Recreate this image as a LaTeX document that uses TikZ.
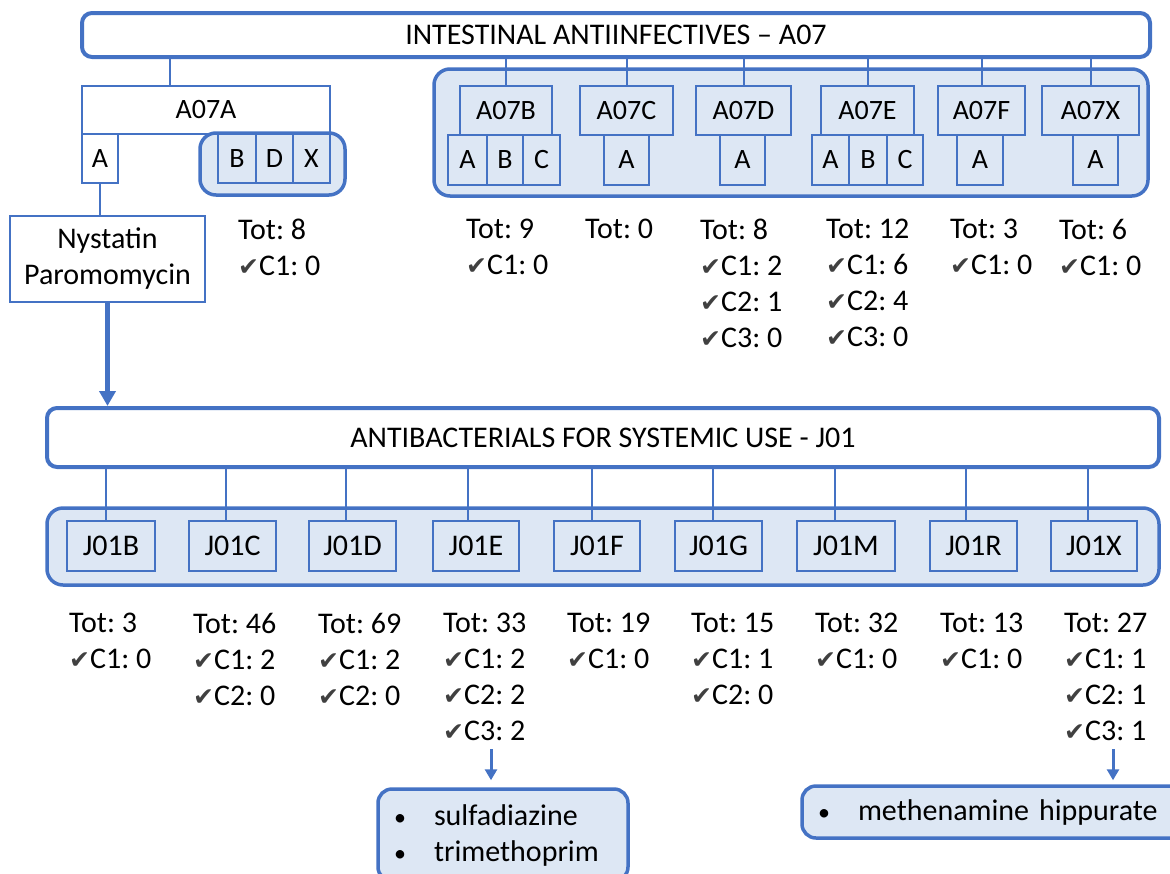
\documentclass[tikz,border=0pt]{standalone}
\usepackage{fontspec}
\setmainfont{Carlito}
\newfontfamily\symfont{DejaVu Sans}
\usetikzlibrary{arrows.meta}
\definecolor{accent}{HTML}{4472C4}
\definecolor{pale}{HTML}{DDE7F4}
\definecolor{chk}{HTML}{404040}
\newcommand\okmark{{\symfont\fontsize{25}{36}\selectfont\color{chk}✔}}
\newcommand\bul{\makebox[40pt][l]{\fontsize{24}{36}\selectfont•}}
\frenchspacing

\tikzset{
  title/.style={draw=accent, line width=4pt, rounded corners=10pt, fill=white, inner sep=0pt},
  cell/.style={draw=accent, line width=2pt, fill=pale, inner sep=0pt},
  small/.style={font=\fontsize{28}{36}\selectfont},
  plain/.style={cell, fill=white},
  link/.style={draw=accent, line width=2pt},
  grp/.style={draw=accent, line width=3.5pt, rounded corners=16pt, fill=pale},
  stat/.style={anchor=north west, align=left, inner sep=0pt},
  drug/.style={draw=accent, line width=3.5pt, rounded corners=14pt, fill=pale, align=left, inner xsep=16pt},
  arr/.style={draw=accent, line width=3pt, -{Triangle[length=11pt,width=12pt]}},
  bigarr/.style={draw=accent, line width=5pt, -{Triangle[length=15pt,width=16pt]}}
}

\begin{document}
\begin{tikzpicture}[x=1pt, y=-1pt, font=\fontsize{30}{36}\selectfont]
\useasboundingbox (0,0) rectangle (1170,873);
\clip (0,0) rectangle (1170,873);

% A07 tree
\node[title, minimum width=1068pt, minimum height=44pt] (a07) at (616,35) {INTESTINAL ANTIINFECTIVES – A07};
\node[plain, small, minimum width=248pt, minimum height=48pt] (a7a) at (206,110) {A07A};
\coordinate (ka) at (170,57);
\draw[link] (ka) -- (ka |- a7a.north);
\node[plain, small, minimum width=36pt, minimum height=49pt] (a7aa) at (100,158.5) {A};
\node[plain, minimum width=195pt, minimum height=86pt, align=center] (nyst) at (107.5,259) {Nystatin\\Paromomycin};
\draw[link] (a7aa.south) -- (a7aa.south |- nyst.north);
\draw[grp] (200,133) rectangle (345,195);
\foreach \s/\l/\r in {B/218/256, D/256/293, X/293/330}
  \node[cell, small, minimum width={(\r-\l)*1pt}, minimum height=49pt] (a7a\s) at ({(\l+\r)/2},158.5) {\s};
\node[stat] (sa) at (238,219) {Tot: 8\\\okmark C1: 0};

\draw[grp] (434,69) rectangle (1148,196);
\foreach \n/\l/\r in {B/460/552, C/580/673, D/696/791, E/821/914, F/938/1025, X/1042/1139}{
  \node[cell, small, minimum width={(\r-\l)*1pt}, minimum height=49pt] (a7\n) at ({(\l+\r)/2},110.5) {A07\n};
  \draw[link] (a07.south -| a7\n.north) -- (a7\n.north);
}
\foreach \p/\s/\l/\r in {B/A/448/487, B/B/487/523, B/C/523/560, C/A/604/649, D/A/720/765,
                         E/A/812/849, E/B/849/887, E/C/887/923, F/A/957/1003, X/A/1073/1118}
  \node[cell, small, minimum width={(\r-\l)*1pt}, minimum height=50pt] (a7\p\s) at ({(\l+\r)/2},160) {\s};
\foreach \x/\t [count=\i] in {466/{Tot: 9\\\okmark C1: 0}, 585/{Tot: 0},
    700/{Tot: 8\\\okmark C1: 2\\\okmark C2: 1\\\okmark C3: 0},
    826/{Tot: 12\\\okmark C1: 6\\\okmark C2: 4\\\okmark C3: 0},
    950/{Tot: 3\\\okmark C1: 0}, 1059/{Tot: 6\\\okmark C1: 0}}
  \node[stat] (sb\i) at (\x,219) {\t};

% J01 tree
\node[title, minimum width=1112pt, minimum height=59pt] (j01) at (603,437.5) {ANTIBACTERIALS FOR SYSTEMIC USE - J01};
\draw[bigarr] (nyst.south) -- (nyst.south |- j01.north);
\draw[grp] (47,508) rectangle (1159,585);
\foreach \n/\l/\r/\c in {B/67/155/106, C/189/276/226, D/309/396/346, E/433/519/468, F/554/640/592,
                         G/675/762/713, M/797/895/835, R/930/1017/966, X/1051/1137/1088}{
  \coordinate (kj\n) at (\c,467);
  \node[cell, minimum width={(\r-\l)*1pt}, minimum height=50pt] (j\n) at ({(\l+\r)/2},546) {J01\n};
  \draw[link] (kj\n) -- (kj\n |- j\n.north);
}
\foreach \x/\t [count=\i] in {69/{Tot: 3\\\okmark C1: 0}, 193/{Tot: 46\\\okmark C1: 2\\\okmark C2: 0},
    318/{Tot: 69\\\okmark C1: 2\\\okmark C2: 0}, 443/{Tot: 33\\\okmark C1: 2\\\okmark C2: 2\\\okmark C3: 2},
    567/{Tot: 19\\\okmark C1: 0}, 691/{Tot: 15\\\okmark C1: 1\\\okmark C2: 0},
    815/{Tot: 32\\\okmark C1: 0}, 940/{Tot: 13\\\okmark C1: 0},
    1064/{Tot: 27\\\okmark C1: 1\\\okmark C2: 1\\\okmark C3: 1}}
  \node[stat] (sj\i) at (\x,613) {\t};

\node[drug, text width=218pt, minimum height=92pt] (sulfa) at (503,835) {\bul sulfadiazine\\\bul trimethoprim};
\node[drug, text width=351pt, minimum height=52pt] (meth) at (993.5,812) {\bul methenamine hippurate};
\coordinate (ks) at (491,749);
\coordinate (km) at (1113,749);
\draw[arr, shorten >=7pt] (ks) -- (ks |- sulfa.north);
\draw[arr, shorten >=4pt] (km) -- (km |- meth.north);
\end{tikzpicture}
\end{document}
